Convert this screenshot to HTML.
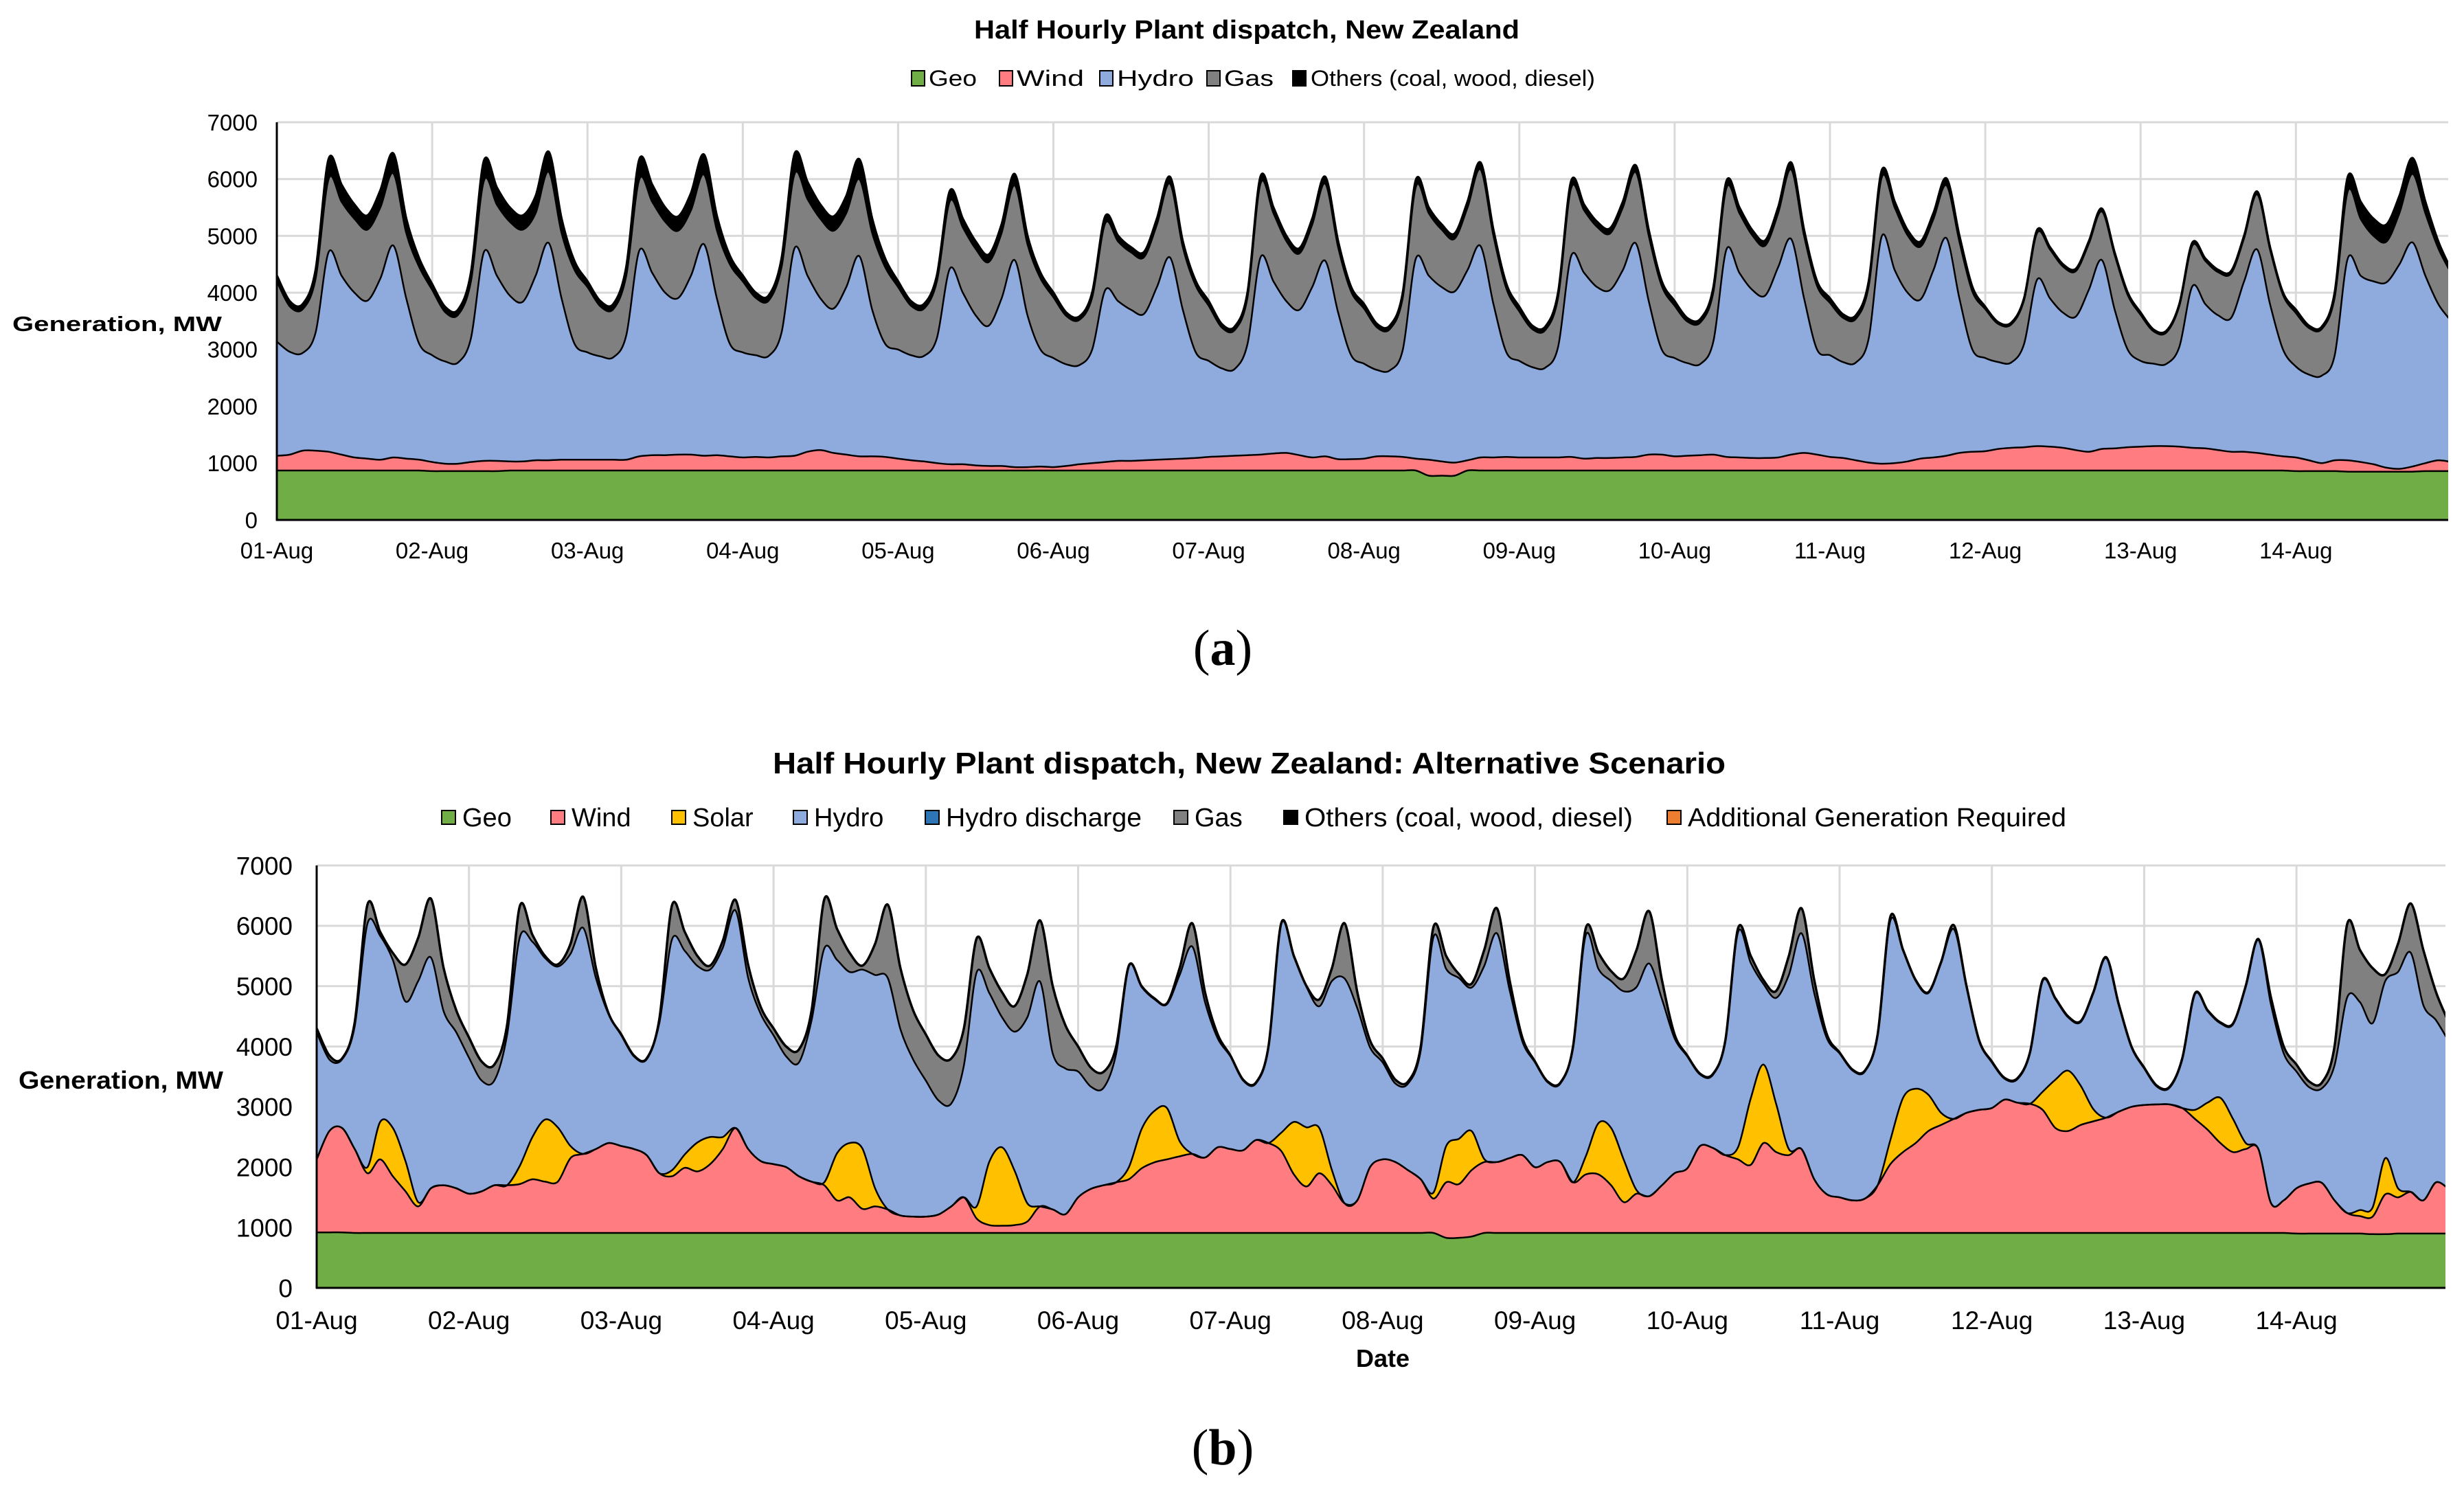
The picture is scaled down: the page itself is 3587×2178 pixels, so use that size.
<!DOCTYPE html>
<html><head><meta charset="utf-8"><style>
html,body{margin:0;padding:0;background:#fff}
svg{display:block}
text{font-family:"Liberation Sans",Arial,sans-serif;fill:#000}
</style></head><body>
<svg id="chart" width="3587" height="2178" viewBox="0 0 3587 2178" xmlns="http://www.w3.org/2000/svg">
<defs>
<clipPath id="clipA"><rect x="403" y="170" width="3161" height="588"/></clipPath>
<clipPath id="clipB"><rect x="461" y="1250" width="3099" height="626"/></clipPath>
</defs>
<g id="gridA"></g>
<g id="gridB"></g>
<g id="seriesA" clip-path="url(#clipA)"></g>
<g id="seriesB" clip-path="url(#clipB)"></g>
<g id="axesA"></g>
<g id="axesB"></g>

<text x="1418" y="56" font-size="38" font-weight="bold" textLength="794" lengthAdjust="spacingAndGlyphs">Half Hourly Plant dispatch, New Zealand</text>
<g font-size="32">
<g><rect x="1327" y="103" width="19" height="22" fill="#70ad47" stroke="#000" stroke-width="2"/><text x="1352" y="125" textLength="70" lengthAdjust="spacingAndGlyphs">Geo</text></g>
<g><rect x="1455" y="103" width="19" height="22" fill="#ff7c80" stroke="#000" stroke-width="2"/><text x="1480" y="125" textLength="98" lengthAdjust="spacingAndGlyphs">Wind</text></g>
<g><rect x="1601" y="103" width="19" height="22" fill="#8faadc" stroke="#000" stroke-width="2"/><text x="1626" y="125" textLength="112" lengthAdjust="spacingAndGlyphs">Hydro</text></g>
<g><rect x="1757" y="103" width="19" height="22" fill="#808080" stroke="#000" stroke-width="2"/><text x="1782" y="125" textLength="72" lengthAdjust="spacingAndGlyphs">Gas</text></g>
<g><rect x="1882" y="103" width="19" height="22" fill="#000" stroke="#000" stroke-width="2"/><text x="1908" y="125" textLength="414" lengthAdjust="spacingAndGlyphs">Others (coal, wood, diesel)</text></g>
</g>
<text x="18" y="482" font-size="31" font-weight="bold" textLength="305" lengthAdjust="spacingAndGlyphs">Generation, MW</text>
<text x="1780" y="968" font-size="74" text-anchor="middle" style="font-family:'Liberation Serif',serif">(<tspan font-weight="bold">a</tspan>)</text>

<text x="1125" y="1126" font-size="44" font-weight="bold" textLength="1387" lengthAdjust="spacingAndGlyphs">Half Hourly Plant dispatch, New Zealand: Alternative Scenario</text>
<g font-size="38">
<g><rect x="643" y="1180" width="20" height="20" fill="#70ad47" stroke="#000" stroke-width="2"/><text x="673" y="1203">Geo</text></g>
<g><rect x="802" y="1180" width="20" height="20" fill="#ff7c80" stroke="#000" stroke-width="2"/><text x="832" y="1203">Wind</text></g>
<g><rect x="978" y="1180" width="20" height="20" fill="#ffc000" stroke="#000" stroke-width="2"/><text x="1008" y="1203">Solar</text></g>
<g><rect x="1155" y="1180" width="20" height="20" fill="#8faadc" stroke="#000" stroke-width="2"/><text x="1185" y="1203">Hydro</text></g>
<g><rect x="1347" y="1180" width="20" height="20" fill="#2e75b6" stroke="#000" stroke-width="2"/><text x="1377" y="1203" textLength="285" lengthAdjust="spacingAndGlyphs">Hydro discharge</text></g>
<g><rect x="1709" y="1180" width="20" height="20" fill="#808080" stroke="#000" stroke-width="2"/><text x="1739" y="1203">Gas</text></g>
<g><rect x="1869" y="1180" width="20" height="20" fill="#000" stroke="#000" stroke-width="2"/><text x="1899" y="1203" textLength="478" lengthAdjust="spacingAndGlyphs">Others (coal, wood, diesel)</text></g>
<g><rect x="2427" y="1180" width="20" height="20" fill="#ed7d31" stroke="#000" stroke-width="2"/><text x="2457" y="1203" textLength="551" lengthAdjust="spacingAndGlyphs">Additional Generation Required</text></g>
</g>
<text x="27" y="1585" font-size="36" font-weight="bold" textLength="298" lengthAdjust="spacingAndGlyphs">Generation, MW</text>
<text x="2013" y="1990" font-size="36" font-weight="bold" text-anchor="middle">Date</text>
<text x="1780" y="2132" font-size="74" text-anchor="middle" style="font-family:'Liberation Serif',serif">(<tspan font-weight="bold">b</tspan>)</text>
</svg>
<script>
const dayLabels = ['01-Aug','02-Aug','03-Aug','04-Aug','05-Aug','06-Aug','07-Aug','08-Aug','09-Aug','10-Aug','11-Aug','12-Aug','13-Aug','14-Aug'];
const yTickLabels = [0,1000,2000,3000,4000,5000,6000,7000];

// 2-hourly samples (00,02,...,22 h) per day, plus final point
const totalDemand = [
4300,3850,3800,4400,6350,5900,5550,5360,5800,6450,5300,4600,
4150,3750,3700,4350,6320,5850,5500,5360,5700,6480,5300,4550,
4200,3850,3800,4450,6340,5900,5500,5340,5750,6430,5350,4650,
4300,4000,3950,4600,6440,5950,5550,5340,5700,6350,5300,4600,
4200,3850,3800,4300,5790,5300,4900,4670,5200,6090,5000,4350,
4000,3650,3580,4000,5340,5000,4800,4715,5300,6040,4900,4200,
3850,3450,3400,4000,6040,5500,5000,4780,5300,6040,4900,4100,
3800,3450,3420,4000,5980,5500,5200,5040,5600,6290,5100,4150,
3750,3420,3400,4000,5960,5550,5250,5130,5600,6240,5100,4200,
3850,3550,3540,4100,5960,5500,5100,4920,5500,6290,5100,4200,
3900,3620,3600,4200,6150,5600,5100,4900,5400,6010,5000,4100,
3750,3480,3470,3900,5100,4800,4500,4420,4900,5480,4700,4000,
3650,3350,3330,3800,4880,4600,4400,4380,5000,5780,4800,4000,
3700,3420,3400,4000,6030,5600,5300,5200,5700,6370,5600,4900,
4400];
const othersA = [
100,90,90,150,350,300,250,250,300,350,250,150,
100,90,90,150,350,300,250,250,300,350,250,150,
100,90,90,150,350,300,250,250,300,350,250,150,
100,90,90,150,350,300,250,250,300,350,250,150,
100,80,80,100,180,150,130,130,150,200,150,100,
80,60,60,80,120,100,90,90,100,120,100,80,
80,60,60,80,120,100,90,90,100,120,100,80,
80,60,60,80,120,100,90,90,100,120,100,80,
80,60,60,80,120,100,90,90,100,120,100,80,
80,60,60,80,120,100,90,90,100,120,100,80,
80,60,60,80,120,100,90,90,100,120,100,80,
40,30,30,30,50,40,40,40,40,50,40,40,
40,30,30,30,50,40,40,40,40,50,40,40,
60,40,40,80,250,300,300,300,300,280,200,120,
60];
const hydroTopA = [
3140,2960,2940,3300,4715,4300,4000,3860,4250,4830,3900,3100,
2900,2790,2771,3200,4715,4300,3950,3840,4300,4877,3900,3100,
2950,2880,2864,3250,4738,4350,4000,3905,4300,4854,3900,3100,
2950,2900,2887,3300,4784,4300,3900,3720,4100,4645,3700,3100,
3000,2900,2887,3200,4424,4000,3600,3419,3900,4576,3600,3000,
2850,2740,2725,3000,4044,3850,3700,3628,4100,4622,3700,2950,
2800,2670,2656,3100,4622,4200,3850,3697,4100,4562,3650,2900,
2750,2640,2633,3000,4599,4300,4100,4021,4400,4821,3800,2950,
2800,2690,2679,3050,4645,4350,4100,4044,4400,4868,3850,3000,
2850,2760,2748,3150,4761,4350,4050,3951,4450,4946,3900,3000,
2900,2780,2771,3200,4993,4400,4000,3882,4400,4960,3900,3000,
2850,2780,2771,3100,4229,3900,3650,3581,4050,4576,3700,3000,
2800,2750,2748,3050,4113,3800,3600,3558,4200,4761,3800,3000,
2700,2560,2540,2900,4599,4300,4200,4183,4500,4886,4300,3800,
3500];
const windTopA = [
1130,1150,1220,1220,1200,1150,1100,1080,1060,1100,1080,1060,
1020,990,990,1020,1040,1040,1030,1030,1050,1050,1060,1060,
1060,1060,1060,1060,1120,1140,1140,1150,1150,1130,1140,1120,
1100,1110,1100,1120,1130,1200,1230,1180,1150,1120,1120,1110,
1080,1050,1030,1000,980,980,960,950,950,930,930,940,
930,950,980,1000,1020,1040,1040,1050,1060,1070,1080,1090,
1110,1120,1130,1140,1150,1170,1180,1140,1100,1120,1070,1070,
1080,1120,1120,1110,1080,1060,1030,1010,1050,1100,1100,1110,
1100,1100,1100,1100,1110,1080,1090,1090,1100,1110,1150,1150,
1120,1130,1140,1150,1110,1100,1090,1090,1100,1150,1180,1150,
1110,1090,1050,1010,990,1000,1030,1080,1100,1130,1180,1200,
1210,1250,1270,1280,1300,1290,1270,1230,1200,1250,1260,1280,
1290,1300,1300,1290,1270,1260,1230,1200,1200,1180,1150,1120,
1100,1050,1000,1050,1050,1020,980,920,900,940,1000,1050,
1020];
const geoA = [
870,870,870,870,870,870,870,870,870,870,870,870,
860,860,860,860,860,860,870,870,870,870,870,870,
870,870,870,870,870,870,870,870,870,870,870,870,
870,870,870,870,870,870,870,870,870,870,870,870,
870,870,870,870,870,870,870,870,870,870,870,870,
870,870,870,870,870,870,870,870,870,870,870,870,
870,870,870,870,870,870,870,870,870,870,870,870,
870,870,870,870,870,780,780,780,870,870,870,870,
870,870,870,870,870,870,870,870,870,870,870,870,
870,870,870,870,870,870,870,870,870,870,870,870,
870,870,870,870,870,870,870,870,870,870,870,870,
870,870,870,870,870,870,870,870,870,870,870,870,
870,870,870,870,870,870,870,870,870,870,870,870,
860,860,860,860,850,850,850,850,850,850,860,860,
860];

// Alternative scenario
const geoB = [
920,920,920,910,910,910,910,910,910,910,910,910,
910,910,910,910,910,910,910,910,910,910,910,910,
910,910,910,910,910,910,910,910,910,910,910,910,
910,910,910,910,910,910,910,910,910,910,910,910,
910,910,910,910,910,910,910,910,910,910,910,910,
910,910,910,910,910,910,910,910,910,910,910,910,
910,910,910,910,910,910,910,910,910,910,910,910,
910,910,910,910,910,830,830,850,910,910,910,910,
910,910,910,910,910,910,910,910,910,910,910,910,
910,910,910,910,910,910,910,910,910,910,910,910,
910,910,910,910,910,910,910,910,910,910,910,910,
910,910,910,910,910,910,910,910,910,910,910,910,
910,910,910,910,910,910,910,910,910,910,910,910,
900,900,900,900,900,900,890,890,900,900,900,900,
900];
const windTopB = [
2130,2600,2650,2300,1900,2130,1850,1600,1350,1650,1700,1650,
1560,1600,1700,1700,1720,1800,1760,1760,2150,2220,2300,2400,
2350,2300,2200,1900,1850,1990,1930,2050,2300,2650,2300,2100,
2050,2000,1850,1760,1700,1450,1500,1310,1350,1300,1200,1180,
1180,1216,1350,1500,1150,1040,1030,1040,1100,1350,1300,1220,
1500,1640,1700,1750,1800,1980,2080,2130,2180,2220,2160,2330,
2300,2280,2450,2400,2270,1880,1680,1900,1700,1400,1450,2000,
2130,2085,1950,1800,1480,1750,1720,1950,2085,2085,2150,2200,
2000,2085,2085,1750,1880,1880,1700,1420,1560,1520,1700,1900,
1980,2350,2320,2200,2130,2040,2400,2250,2200,2300,1800,1550,
1500,1450,1480,1700,2050,2250,2400,2600,2700,2800,2900,2950,
2980,3120,3070,3050,2950,2650,2600,2700,2760,2820,2920,3000,
3030,3040,3040,2980,2800,2620,2400,2250,2300,2300,1400,1450,
1650,1730,1740,1450,1240,1190,1180,1550,1500,1590,1450,1750,
1640];
const solarB = [
0,0,0,0,100,620,800,500,70,0,0,0,
0,0,0,0,300,700,1030,900,200,0,0,0,
0,0,0,0,100,220,480,450,200,0,0,0,
0,0,0,0,50,780,900,1000,300,0,0,0,
0,0,0,0,200,1050,1300,900,300,0,0,0,
0,0,0,0,200,650,850,850,250,0,0,0,
0,0,0,0,300,870,980,750,250,0,0,0,
0,0,0,0,100,600,750,650,50,0,0,0,
0,0,0,0,300,850,950,700,60,0,0,0,
0,0,0,0,200,1100,1300,800,100,0,0,0,
0,0,0,0,400,900,900,600,200,0,0,0,
0,0,0,0,300,800,1000,650,200,0,0,0,
0,0,0,0,150,450,750,550,100,0,0,0,
0,0,0,0,0,100,150,600,150,0,0,0,
0];
const gasB = [
50,50,0,50,300,50,100,600,700,960,700,350,
320,300,250,150,500,100,20,20,150,500,150,0,
0,0,0,50,550,300,150,50,100,160,200,100,
100,150,200,150,800,500,300,50,500,1200,1000,800,
750,730,730,600,550,400,400,410,700,1000,1100,700,
400,300,250,100,0,0,0,0,100,370,150,50,
0,0,0,0,0,0,0,100,200,900,250,100,
50,50,20,50,150,200,50,50,250,400,150,50,
0,0,0,0,100,250,150,200,600,850,300,50,
0,0,0,0,50,100,50,100,300,400,200,50,
0,0,0,0,50,0,0,0,0,50,0,0,
0,0,0,0,0,0,0,0,0,0,0,0,
0,0,0,0,0,0,0,0,0,0,100,100,
100,80,80,300,1200,850,900,100,450,800,900,450,
300];

const NS = 'http://www.w3.org/2000/svg';
function mk(tag, attrs, parent){const e=document.createElementNS(NS,tag);for(const k in attrs)e.setAttribute(k,attrs[k]);parent.appendChild(e);return e;}

const A = {x0:403, day:226.1, yb:757, yt:178, right:3564, tickRight:375, tickFont:33, xLabY:813};
const B = {x0:461, day:221.7, yb:1875, yt:1260, right:3560, tickRight:426, tickFont:37, xLabY:1935};
function xS(c,i){return c.x0 + (i/12)*c.day;}
function yS(c,v){return c.yb - (v/7000)*(c.yb-c.yt);}

function drawFrame(c, grid, axes, tag){
  yTickLabels.forEach(function(t){
    const y=yS(c,t);
    if(t>0){const g=mk('line',{x1:c.x0,x2:c.right,y1:y,y2:y,stroke:'#d9d9d9','stroke-width':3},grid);
      
      }
    const tx=mk('text',{x:c.tickRight,y:y+c.tickFont*0.36,'font-size':c.tickFont,'text-anchor':'end'},axes);
    tx.textContent=t;
    
    
  });
  dayLabels.forEach(function(d,k){
    const x=c.x0+k*c.day;
    if(k>0){const g=mk('line',{x1:x,x2:x,y1:c.yt,y2:c.yb,stroke:'#d9d9d9','stroke-width':3},grid);
      
      }
    const tx=mk('text',{x:x,y:c.xLabY,'font-size':c.tickFont,'text-anchor':'middle'},axes);
    tx.textContent=d;
    
    
  });
  const ya=mk('line',{x1:c.x0,x2:c.x0,y1:c.yt,y2:c.yb+1,stroke:'#000','stroke-width':3},axes);
  
  
  const xa=mk('line',{x1:c.x0-1,x2:c.right,y1:c.yb,y2:c.yb,stroke:'#000','stroke-width':3},axes);
  
  
}

// smooth curve (Catmull-Rom -> cubic Bezier) through screen points
function smooth(pts, start){
  let d=start?('M'+pts[0][0].toFixed(1)+','+pts[0][1].toFixed(1)):(' L'+pts[0][0].toFixed(1)+','+pts[0][1].toFixed(1));
  const t=0.16;
  for(let i=0;i<pts.length-1;i++){
    const p0=pts[i>0?i-1:i],p1=pts[i],p2=pts[i+1],p3=pts[i+2<pts.length?i+2:i+1];
    const c1x=p1[0]+(p2[0]-p0[0])*t, c1y=p1[1]+(p2[1]-p0[1])*t;
    const c2x=p2[0]-(p3[0]-p1[0])*t, c2y=p2[1]-(p3[1]-p1[1])*t;
    d+=' C'+c1x.toFixed(1)+','+c1y.toFixed(1)+' '+c2x.toFixed(1)+','+c2y.toFixed(1)+' '+p2[0].toFixed(1)+','+p2[1].toFixed(1);
  }
  return d;
}

function drawStack(c, parent, levels, colors, names, tag){
  const n=levels[0].length;
  let prev=new Array(n).fill(0);
  const edges=[];
  levels.forEach(function(lv,s){
    const upPts=[],dnPts=[];
    for(let i=0;i<n;i++){upPts.push([xS(c,i),yS(c,lv[i])]);}
    for(let i=n-1;i>=0;i--){dnPts.push([xS(c,i),yS(c,prev[i])]);}
    const up=smooth(upPts,true);
    const dn=s===0?(' L'+dnPts[0][0].toFixed(1)+','+dnPts[0][1].toFixed(1)+' L'+dnPts[n-1][0].toFixed(1)+','+dnPts[n-1][1].toFixed(1)):smooth(dnPts,false);
    const p=mk('path',{d:up+dn+' Z',fill:colors[s],stroke:colors[s],'stroke-width':0.8},parent);
    
    
    edges.push(up);
    prev=lv;
  });
  edges.forEach(function(up,s){
    const l=mk('path',{d:up,fill:'none',stroke:'#000','stroke-width':(s===edges.length-1?3.5:2.5),'stroke-linejoin':'round'},parent);
    
    
  });
}

drawFrame(A, document.getElementById('gridA'), document.getElementById('axesA'), 'top');
drawFrame(B, document.getElementById('gridB'), document.getElementById('axesB'), 'bottom');

const gasTopA = totalDemand.map(function(t,i){return t-othersA[i];});
drawStack(A, document.getElementById('seriesA'),
  [geoA, windTopA, hydroTopA, gasTopA, totalDemand],
  ['#70ad47','#ff7c80','#8faadc','#808080','#000000'],
  ['geo','wind','hydro','gas','others'], 'top');

const solarTopB = windTopB.map(function(w,i){return w+solarB[i];});
const hydroTopB = totalDemand.map(function(t,i){return Math.max(solarTopB[i], t-gasB[i]-15);});
drawStack(B, document.getElementById('seriesB'),
  [geoB, windTopB, solarTopB, hydroTopB, totalDemand],
  ['#70ad47','#ff7c80','#ffc000','#8faadc','#808080'],
  ['geo','wind','solar','hydro','gas'], 'bottom');
</script>
</body></html>
